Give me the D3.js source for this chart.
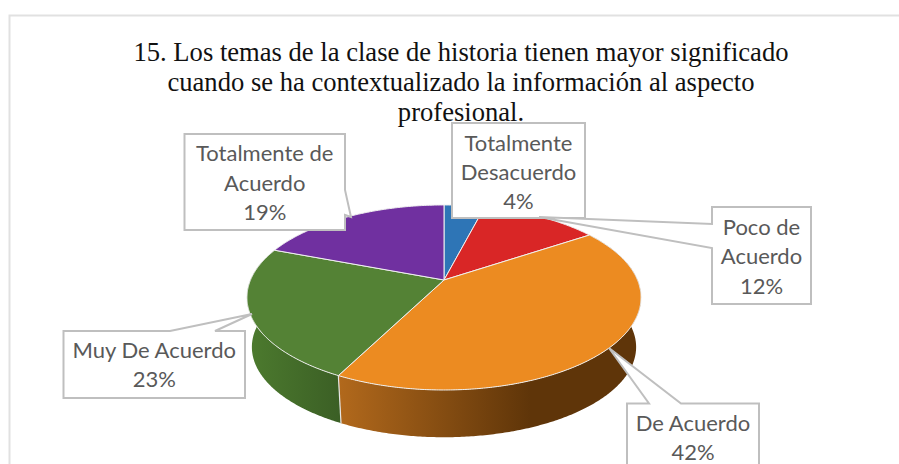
<!DOCTYPE html>
<html><head><meta charset="utf-8">
<script src="https://cdn.jsdelivr.net/npm/d3@7/dist/d3.min.js"></script>
<style>html,body{margin:0;padding:0;background:#fff;overflow:hidden}svg{display:block}</style>
</head><body><div id="c"></div>
<script>
const categories = ["Totalmente Desacuerdo","Poco de Acuerdo","De Acuerdo","Muy De Acuerdo","Totalmente de Acuerdo"];
const values = [4,11.6,41.9,23.3,19.2];
const colors = ["#2e75b6","#d92626","#ec8b21","#548235","#7030a0"];
const titleLines = ["15. Los temas de la clase de historia tienen mayor significado","cuando se ha contextualizado la información al aspecto","profesional."];
const labelLines = [["Totalmente","Desacuerdo","4%"],["Poco de","Acuerdo","12%"],["De Acuerdo","42%"],["Muy De Acuerdo","23%"],["Totalmente de","Acuerdo","19%"]];

const W=899,H=464;
const svg=d3.select("#c").append("svg").attr("width",W).attr("height",H);
const defs=svg.append("defs");

// frame
svg.append("path").attr("d",`M${W+2} 15.5H9.5V${H+2}`).attr("fill","none").attr("stroke","#e1e1e1").attr("stroke-width",2);

// perspective projection of the pie disc
const cx=444,cy=280,k=-0.189,ay=89.2,ax=193.5,depthScale=0.975,depth=50;
function proj(theta,s,off){
  const u=-Math.cos(theta),v=Math.sin(theta),w=1+k*u;
  return [cx+s*ax*v/w, cy+off+s*ay*u/w];
}
const pie=d3.pie().sort(null).value(d=>d)(values);
const line=d3.line();
function arcPts(a,b,s,off){
  const n=Math.max(2,Math.ceil((b-a)/0.01));
  return d3.range(n+1).map(i=>proj(a+(b-a)*i/n,s,off));
}

// side wall gradients
const sideGrad=[
 {i:2,x1:338,x2:530,stops:["#b2691c","#5f3509"]},
 {i:3,x1:250,x2:340,stops:["#4c7a2e","#3b5f25"]}
];
sideGrad.forEach(g=>{
  const lg=defs.append("linearGradient").attr("id","side"+g.i).attr("gradientUnits","userSpaceOnUse")
    .attr("x1",g.x1).attr("x2",g.x2).attr("y1",0).attr("y2",0);
  g.stops.forEach((c,j)=>lg.append("stop").attr("offset",j).attr("stop-color",c));
  const d=pie[g.i];
  const top=arcPts(d.startAngle,d.endAngle,1,0);
  const bot=arcPts(d.startAngle,d.endAngle,depthScale,depth).reverse();
  svg.append("path").attr("d",line(top.concat(bot))+"Z").attr("fill",`url(#side${g.i})`);
});
// seam between the side walls
const seam=pie[3].startAngle;
svg.append("path").attr("d",line([proj(seam,1,0),proj(seam,depthScale,depth)]))
  .attr("stroke","#e6e6e6").attr("stroke-width",1.2).attr("fill","none");

// top faces
pie.forEach((d,i)=>{
  const pts=[[cx,cy]].concat(arcPts(d.startAngle,d.endAngle,1,0));
  svg.append("path").attr("d",line(pts)+"Z").attr("fill",colors[i])
    .attr("stroke","#f0f0f0").attr("stroke-width",1).attr("stroke-linejoin","round");
});

// title
const title=svg.append("g").attr("font-family","'Liberation Serif',serif").attr("font-size",26.6)
  .attr("fill","#111").attr("text-anchor","middle");
[61,91,121].forEach((y,i)=>title.append("text").attr("x",461).attr("y",y).text(titleLines[i]));

// callouts: box and pointer
const callouts=[
 {i:4,x0:184.5,x1:345,y0:134,y1:230,path:[[345,190],[351,217],[345,215]],side:"r",ly:[161,191,220]},
 {i:3,x0:63.5,x1:245,y0:331,y1:398,path:[[170,331],[252,314],[215,331]],side:"t",ly:[358,387]},
 {i:2,x0:627,x1:759,y0:403.5,y1:480,path:[[649,403.5],[609,348],[681,403.5]],side:"t",ly:[431,460]},
 {i:1,x0:712,x1:811,y0:207,y1:304,path:[[712,224],[539,217],[712,248]],side:"l",ly:[235,264,294]},
 {i:0,x0:452,x1:585,y0:123,y1:218,path:[],side:"",ly:[151,180,209]}
];
function calloutPath(c){
  const p=c.path;
  let pts;
  if(c.side==="t") pts=[[c.x0,c.y0],...p,[c.x1,c.y0],[c.x1,c.y1],[c.x0,c.y1]];
  else if(c.side==="r") pts=[[c.x0,c.y0],[c.x1,c.y0],...p,[c.x1,c.y1],[c.x0,c.y1]];
  else if(c.side==="l") pts=[[c.x0,c.y0],[c.x1,c.y0],[c.x1,c.y1],[c.x0,c.y1],...p.slice().reverse()];
  else pts=[[c.x0,c.y0],[c.x1,c.y0],[c.x1,c.y1],[c.x0,c.y1]];
  return line(pts)+"Z";
}
[0,4,3,2,1].forEach(idx=>{
  const c=callouts.find(o=>o.i===idx);
  svg.append("path").attr("d",calloutPath(c)).attr("fill","#fff").attr("stroke","#bfbfbf").attr("stroke-width",2);
  const g=svg.append("g").attr("font-family","Lato,sans-serif").attr("font-size",22).attr("fill","#595959").attr("text-anchor","middle");
  labelLines[idx].forEach((t,j)=>g.append("text").attr("x",(c.x0+c.x1)/2).attr("y",c.ly[j]).text(t));
});
</script></body></html>
